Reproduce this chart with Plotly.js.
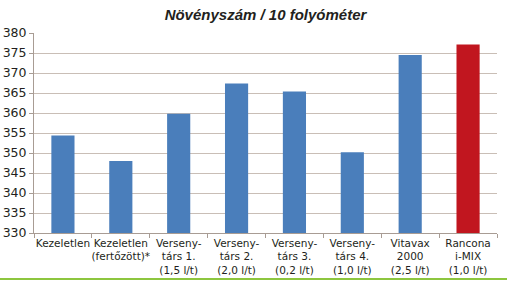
<!DOCTYPE html>
<html>
<head>
<meta charset="utf-8">
<script src="https://cdn.plot.ly/plotly-3.0.1.min.js"></script>
<style>html,body{margin:0;padding:0;background:#fff;}#chart{width:507px;height:281px;}</style>
</head>
<body>
<div id="chart"></div>
<script>
const categories = [
  "Kezeletlen",
  "Kezeletlen<br>(fertőzött)*",
  "Verseny-<br>társ 1.<br>(1,5 l/t)",
  "Verseny-<br>társ 2.<br>(2,0 l/t)",
  "Verseny-<br>társ 3.<br>(0,2 l/t)",
  "Verseny-<br>társ 4.<br>(1,0 l/t)",
  "Vitavax<br>2000<br>(2,5 l/t)",
  "Rancona<br>i-MIX<br>(1,0 l/t)"
];
const values = [354.4, 348.0, 359.8, 367.4, 365.4, 350.2, 374.5, 377.1];
const barColors = ["#4a7ebb","#4a7ebb","#4a7ebb","#4a7ebb","#4a7ebb","#4a7ebb","#4a7ebb","#c1161f"];
const yTicks = [330,335,340,345,350,355,360,365,370,375,380];
const titleText = "Növényszám / 10 folyóméter";

const trace = {
  type: "bar",
  x: categories,
  y: values,
  marker: {color: barColors},
  hoverinfo: "none"
};

const W = 507, H = 281, L = 34, R = 10, T = 33, B = 48;
const pw = W - L - R, ph = H - T - B;

const layout = {
  width: W, height: H,
  margin: {l: L, r: R, t: T, b: B, pad: 0},
  paper_bgcolor: "#ffffff",
  plot_bgcolor: "#ffffff",
  bargap: 0.6,
  showlegend: false,
  title: {
    text: "<b><i>" + titleText + "</i></b>",
    font: {family: "Liberation Sans", size: 15, color: "#231f20"},
    x: 0.5, xref: "paper", xanchor: "center",
    y: 1 - 15/H, yref: "container", yanchor: "middle"
  },
  xaxis: {
    type: "category",
    showgrid: false,
    showline: true, linecolor: "#a89c94", linewidth: 1,
    ticks: "outside", tickson: "boundaries", ticklen: 4, tickcolor: "#a89c94",
    tickfont: {family: "DejaVu Sans", size: 10.5, color: "#231f20"},
    tickangle: 0,
    automargin: false
  },
  yaxis: {
    range: [330, 380],
    tickvals: yTicks,
    ticktext: yTicks.map(String),
    showgrid: true, gridcolor: "#c9beb6", gridwidth: 1,
    showline: true, linecolor: "#a89c94", linewidth: 1,
    ticks: "outside", ticklen: 4, tickcolor: "#a89c94",
    tickfont: {family: "DejaVu Sans", size: 12.5, color: "#231f20"},
    zeroline: false,
    automargin: false
  },
  shapes: [{
    type: "line", xref: "paper", yref: "paper",
    x0: -L/pw, x1: (W - L)/pw,
    y0: -(279 - (T + ph))/ph, y1: -(279 - (T + ph))/ph,
    line: {color: "#8dc63f", width: 2}
  }]
};

Plotly.newPlot("chart", [trace], layout, {staticPlot: true, displayModeBar: false});
</script>
</body>
</html>
